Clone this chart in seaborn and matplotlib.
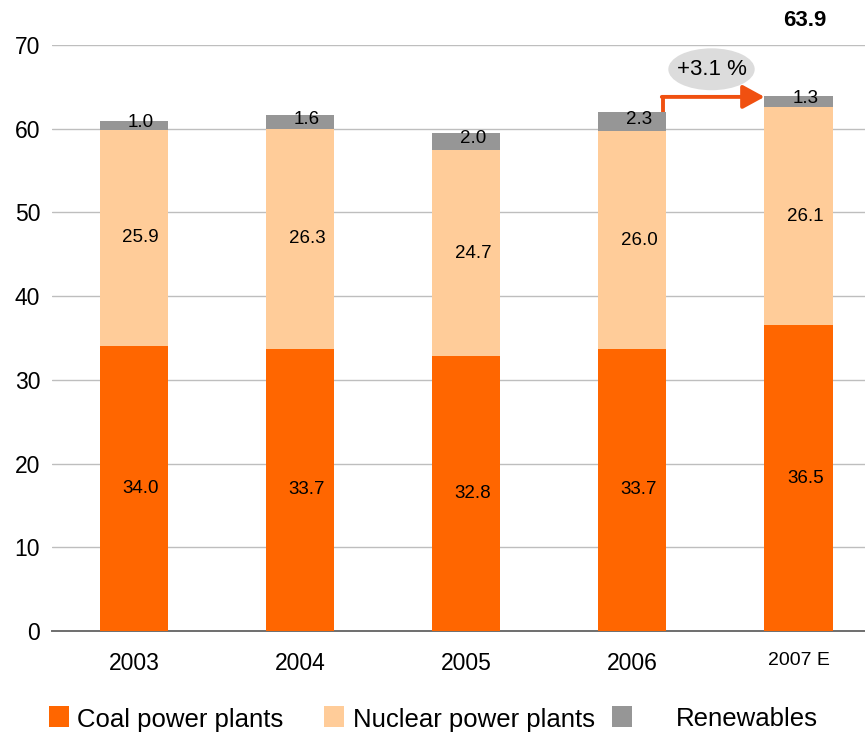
import matplotlib
matplotlib.use("Agg")
import matplotlib.pyplot as plt
import seaborn as sns
import pandas as pd
import numpy as np
from matplotlib.patches import Ellipse, Rectangle

years = ["2003", "2004", "2005", "2006", "2007 E"]
coal = [34.0, 33.7, 32.8, 33.7, 36.5]
nuclear = [25.9, 26.3, 24.7, 26.0, 26.1]
renewables = [1.0, 1.6, 2.0, 2.3, 1.3]
series_names = ["Coal power plants", "Nuclear power plants", "Renewables"]
colors = ["#FF6600", "#FFCC99", "#969696"]
total_label = "63.9"
growth_label = "+3.1 %"

sns.set_theme(style="white")
plt.rcParams['font.family'] = ['Liberation Sans', 'DejaVu Sans']
plt.rcParams['text.color'] = 'black'
plt.rcParams['xtick.color'] = 'black'
plt.rcParams['ytick.color'] = 'black'

W, H = 865, 732
fig = plt.figure(figsize=(W / 100, H / 100), dpi=100)
ax = fig.add_axes([52 / W, 101 / H, 1 - 52 / W, 586 / H])

df = pd.DataFrame({"year": years, "coal": coal, "nuclear": nuclear, "renew": renewables})
df["c_n"] = df["coal"] + df["nuclear"]
df["total"] = df["c_n"] + df["renew"]

w = 0.41
sns.barplot(data=df, x="year", y="total", color=colors[2], width=w, ax=ax, saturation=1, zorder=2)
sns.barplot(data=df, x="year", y="c_n", color=colors[1], width=w, ax=ax, saturation=1, zorder=3)
sns.barplot(data=df, x="year", y="coal", color=colors[0], width=w, ax=ax, saturation=1, zorder=4)
for p in ax.patches:
    p.set_edgecolor("none")

x = np.arange(len(years))
fs_lab = 13.5
for i in range(len(years)):
    ax.text(x[i] + 0.04, coal[i] / 2, f"{coal[i]:.1f}", ha="center", va="center", fontsize=fs_lab, color="black", zorder=6)
    ax.text(x[i] + 0.04, coal[i] + nuclear[i] / 2, f"{nuclear[i]:.1f}", ha="center", va="center", fontsize=fs_lab, color="black", zorder=6)
    ax.text(x[i] + 0.04, coal[i] + nuclear[i] + renewables[i] / 2 + 0.3, f"{renewables[i]:.1f}", ha="center", va="center", fontsize=fs_lab, color="black", zorder=6)

# total on top of last bar
ax.text(x[-1] + 0.04, 72.9, total_label, ha="center", va="center", fontsize=16, fontweight="bold",
        color="black", clip_on=False)

# growth arrow
t6 = df["total"].iloc[3]
yarr = 63.8
xs = x[3] + w / 2 - 0.02
xe = x[4] - w / 2
ax.plot([xs, xs], [t6, yarr], color="#F05010", lw=2.8, solid_capstyle="butt", zorder=7)
ax.annotate("", xy=(xe, yarr), xytext=(xs - 0.008, yarr),
            arrowprops=dict(arrowstyle="-|>,head_length=1.1,head_width=0.6", color="#F05010", lw=2.8,
                            shrinkA=0, shrinkB=0),
            zorder=7)
ell = Ellipse((3.476, 67.1), width=0.52, height=5.0, facecolor="#DCDCDC", edgecolor="none", zorder=6)
ax.add_patch(ell)
ax.text(3.476, 67.1, growth_label, ha="center", va="center", fontsize=16, color="black", zorder=8)

ax.set_ylim(0, 70)
ax.set_xlim(-0.494, 4.40)
ax.set_yticks(range(0, 71, 10))
ax.yaxis.grid(True, color="#BEBEBE", lw=1.0, zorder=0)
ax.set_axisbelow(True)
for s in ["top", "right", "left"]:
    ax.spines[s].set_visible(False)
ax.spines["bottom"].set_color("#6E6E6E")
ax.spines["bottom"].set_linewidth(1.4)
ax.set_xlabel("")
ax.set_ylabel("")
ax.tick_params(axis="both", length=0, labelsize=16.5, colors="black", labelcolor="black")
ax.tick_params(axis="y", pad=8.5)
ax.tick_params(axis="x", pad=15)
for lab in ax.get_xticklabels():
    if lab.get_text().endswith("E"):
        lab.set_fontsize(14)

# legend, placed manually in figure pixels
sq_x = [49, 324, 612]
tx_x = [77, 353, 676]
for c, sx, tx, name in zip(colors, sq_x, tx_x, series_names):
    fig.add_artist(Rectangle((sx / W, 5 / H), 20 / W, 21 / H, transform=fig.transFigure,
                             facecolor=c, edgecolor="none"))
    fig.text(tx / W, 5.5 / H, name, ha="left", va="baseline", fontsize=18.5, color="black")

fig.savefig("out.png", dpi=100)
